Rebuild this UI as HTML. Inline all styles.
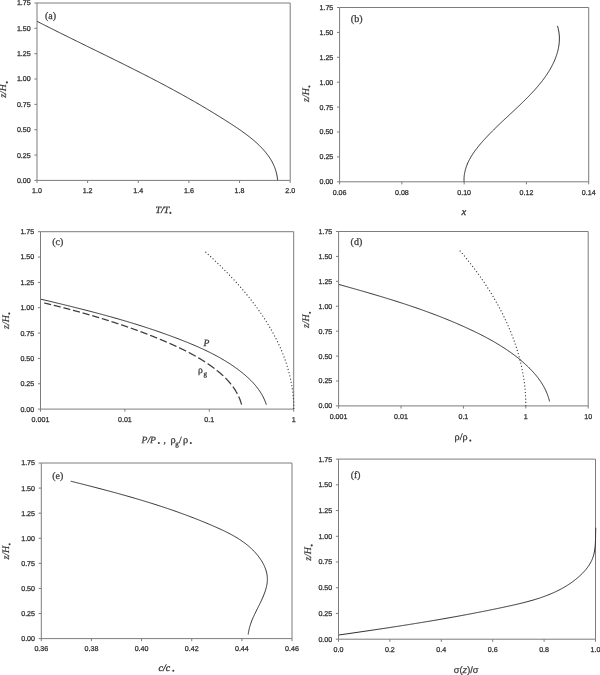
<!DOCTYPE html><html><head><meta charset="utf-8"><style>html,body{margin:0;padding:0;background:#fff;}svg{display:block}.tk{font-family:"Liberation Sans",sans-serif;font-size:7.1px;fill:#333;stroke:#333;stroke-width:0.28px}.sr{font-family:"Liberation Serif",serif;fill:#3a3a3a;stroke:#3a3a3a;stroke-width:0.28px}.ss{font-family:"Liberation Sans",sans-serif;fill:#3a3a3a;stroke:#3a3a3a;stroke-width:0.25px}text{text-rendering:geometricPrecision}.bi{font-style:italic;stroke:#3a3a3a;stroke-width:0.35px}svg{filter:grayscale(1)}</style></head><body>
<svg width="600" height="675" viewBox="0 0 600 675">
<rect width="600" height="675" fill="#fff"/>
<path d="M37.00 3.00H290.20V180.40H37.00Z" fill="none" stroke="#7c7c7c" stroke-width="1"/>
<path d="M34.40 180.40H37.00" stroke="#7c7c7c" stroke-width="1"/>
<text class="tk" x="30.70" y="182.85" text-anchor="end">0.00</text>
<path d="M34.40 155.06H37.00" stroke="#7c7c7c" stroke-width="1"/>
<text class="tk" x="30.70" y="157.51" text-anchor="end">0.25</text>
<path d="M34.40 129.71H37.00" stroke="#7c7c7c" stroke-width="1"/>
<text class="tk" x="30.70" y="132.16" text-anchor="end">0.50</text>
<path d="M34.40 104.37H37.00" stroke="#7c7c7c" stroke-width="1"/>
<text class="tk" x="30.70" y="106.82" text-anchor="end">0.75</text>
<path d="M34.40 79.03H37.00" stroke="#7c7c7c" stroke-width="1"/>
<text class="tk" x="30.70" y="81.48" text-anchor="end">1.00</text>
<path d="M34.40 53.69H37.00" stroke="#7c7c7c" stroke-width="1"/>
<text class="tk" x="30.70" y="56.14" text-anchor="end">1.25</text>
<path d="M34.40 28.34H37.00" stroke="#7c7c7c" stroke-width="1"/>
<text class="tk" x="30.70" y="30.79" text-anchor="end">1.50</text>
<path d="M34.40 3.00H37.00" stroke="#7c7c7c" stroke-width="1"/>
<text class="tk" x="30.70" y="5.45" text-anchor="end">1.75</text>
<path d="M37.00 180.40V183.00" stroke="#7c7c7c" stroke-width="1"/>
<text class="tk" x="37.00" y="193.20" text-anchor="middle">1.0</text>
<path d="M87.64 180.40V183.00" stroke="#7c7c7c" stroke-width="1"/>
<text class="tk" x="87.64" y="193.20" text-anchor="middle">1.2</text>
<path d="M138.28 180.40V183.00" stroke="#7c7c7c" stroke-width="1"/>
<text class="tk" x="138.28" y="193.20" text-anchor="middle">1.4</text>
<path d="M188.92 180.40V183.00" stroke="#7c7c7c" stroke-width="1"/>
<text class="tk" x="188.92" y="193.20" text-anchor="middle">1.6</text>
<path d="M239.56 180.40V183.00" stroke="#7c7c7c" stroke-width="1"/>
<text class="tk" x="239.56" y="193.20" text-anchor="middle">1.8</text>
<path d="M290.20 180.40V183.00" stroke="#7c7c7c" stroke-width="1"/>
<text class="tk" x="290.20" y="193.20" text-anchor="middle">2.0</text>
<path d="M339.60 7.50H588.70V181.80H339.60Z" fill="none" stroke="#7c7c7c" stroke-width="1"/>
<path d="M337.00 181.80H339.60" stroke="#7c7c7c" stroke-width="1"/>
<text class="tk" x="333.30" y="184.25" text-anchor="end">0.00</text>
<path d="M337.00 156.90H339.60" stroke="#7c7c7c" stroke-width="1"/>
<text class="tk" x="333.30" y="159.35" text-anchor="end">0.25</text>
<path d="M337.00 132.00H339.60" stroke="#7c7c7c" stroke-width="1"/>
<text class="tk" x="333.30" y="134.45" text-anchor="end">0.50</text>
<path d="M337.00 107.10H339.60" stroke="#7c7c7c" stroke-width="1"/>
<text class="tk" x="333.30" y="109.55" text-anchor="end">0.75</text>
<path d="M337.00 82.20H339.60" stroke="#7c7c7c" stroke-width="1"/>
<text class="tk" x="333.30" y="84.65" text-anchor="end">1.00</text>
<path d="M337.00 57.30H339.60" stroke="#7c7c7c" stroke-width="1"/>
<text class="tk" x="333.30" y="59.75" text-anchor="end">1.25</text>
<path d="M337.00 32.40H339.60" stroke="#7c7c7c" stroke-width="1"/>
<text class="tk" x="333.30" y="34.85" text-anchor="end">1.50</text>
<path d="M337.00 7.50H339.60" stroke="#7c7c7c" stroke-width="1"/>
<text class="tk" x="333.30" y="9.95" text-anchor="end">1.75</text>
<path d="M339.60 181.80V184.40" stroke="#7c7c7c" stroke-width="1"/>
<text class="tk" x="339.60" y="194.60" text-anchor="middle">0.06</text>
<path d="M401.88 181.80V184.40" stroke="#7c7c7c" stroke-width="1"/>
<text class="tk" x="401.88" y="194.60" text-anchor="middle">0.08</text>
<path d="M464.15 181.80V184.40" stroke="#7c7c7c" stroke-width="1"/>
<text class="tk" x="464.15" y="194.60" text-anchor="middle">0.10</text>
<path d="M526.43 181.80V184.40" stroke="#7c7c7c" stroke-width="1"/>
<text class="tk" x="526.43" y="194.60" text-anchor="middle">0.12</text>
<path d="M588.70 181.80V184.40" stroke="#7c7c7c" stroke-width="1"/>
<text class="tk" x="588.70" y="194.60" text-anchor="middle">0.14</text>
<path d="M40.50 231.70H293.70V409.10H40.50Z" fill="none" stroke="#7c7c7c" stroke-width="1"/>
<path d="M37.90 409.10H40.50" stroke="#7c7c7c" stroke-width="1"/>
<text class="tk" x="34.20" y="411.55" text-anchor="end">0.00</text>
<path d="M37.90 383.76H40.50" stroke="#7c7c7c" stroke-width="1"/>
<text class="tk" x="34.20" y="386.21" text-anchor="end">0.25</text>
<path d="M37.90 358.41H40.50" stroke="#7c7c7c" stroke-width="1"/>
<text class="tk" x="34.20" y="360.86" text-anchor="end">0.50</text>
<path d="M37.90 333.07H40.50" stroke="#7c7c7c" stroke-width="1"/>
<text class="tk" x="34.20" y="335.52" text-anchor="end">0.75</text>
<path d="M37.90 307.73H40.50" stroke="#7c7c7c" stroke-width="1"/>
<text class="tk" x="34.20" y="310.18" text-anchor="end">1.00</text>
<path d="M37.90 282.39H40.50" stroke="#7c7c7c" stroke-width="1"/>
<text class="tk" x="34.20" y="284.84" text-anchor="end">1.25</text>
<path d="M37.90 257.04H40.50" stroke="#7c7c7c" stroke-width="1"/>
<text class="tk" x="34.20" y="259.49" text-anchor="end">1.50</text>
<path d="M37.90 231.70H40.50" stroke="#7c7c7c" stroke-width="1"/>
<text class="tk" x="34.20" y="234.15" text-anchor="end">1.75</text>
<path d="M40.50 409.10V411.70" stroke="#7c7c7c" stroke-width="1"/>
<text class="tk" x="40.50" y="421.90" text-anchor="middle">0.001</text>
<path d="M124.90 409.10V411.70" stroke="#7c7c7c" stroke-width="1"/>
<text class="tk" x="124.90" y="421.90" text-anchor="middle">0.01</text>
<path d="M209.30 409.10V411.70" stroke="#7c7c7c" stroke-width="1"/>
<text class="tk" x="209.30" y="421.90" text-anchor="middle">0.1</text>
<path d="M293.70 409.10V411.70" stroke="#7c7c7c" stroke-width="1"/>
<text class="tk" x="293.70" y="421.90" text-anchor="middle">1</text>
<path d="M338.60 231.50H588.20V405.90H338.60Z" fill="none" stroke="#7c7c7c" stroke-width="1"/>
<path d="M336.00 405.90H338.60" stroke="#7c7c7c" stroke-width="1"/>
<text class="tk" x="332.30" y="408.35" text-anchor="end">0.00</text>
<path d="M336.00 380.99H338.60" stroke="#7c7c7c" stroke-width="1"/>
<text class="tk" x="332.30" y="383.44" text-anchor="end">0.25</text>
<path d="M336.00 356.07H338.60" stroke="#7c7c7c" stroke-width="1"/>
<text class="tk" x="332.30" y="358.52" text-anchor="end">0.50</text>
<path d="M336.00 331.16H338.60" stroke="#7c7c7c" stroke-width="1"/>
<text class="tk" x="332.30" y="333.61" text-anchor="end">0.75</text>
<path d="M336.00 306.24H338.60" stroke="#7c7c7c" stroke-width="1"/>
<text class="tk" x="332.30" y="308.69" text-anchor="end">1.00</text>
<path d="M336.00 281.33H338.60" stroke="#7c7c7c" stroke-width="1"/>
<text class="tk" x="332.30" y="283.78" text-anchor="end">1.25</text>
<path d="M336.00 256.41H338.60" stroke="#7c7c7c" stroke-width="1"/>
<text class="tk" x="332.30" y="258.86" text-anchor="end">1.50</text>
<path d="M336.00 231.50H338.60" stroke="#7c7c7c" stroke-width="1"/>
<text class="tk" x="332.30" y="233.95" text-anchor="end">1.75</text>
<path d="M338.60 405.90V408.50" stroke="#7c7c7c" stroke-width="1"/>
<text class="tk" x="338.60" y="418.70" text-anchor="middle">0.001</text>
<path d="M401.00 405.90V408.50" stroke="#7c7c7c" stroke-width="1"/>
<text class="tk" x="401.00" y="418.70" text-anchor="middle">0.01</text>
<path d="M463.40 405.90V408.50" stroke="#7c7c7c" stroke-width="1"/>
<text class="tk" x="463.40" y="418.70" text-anchor="middle">0.1</text>
<path d="M525.80 405.90V408.50" stroke="#7c7c7c" stroke-width="1"/>
<text class="tk" x="525.80" y="418.70" text-anchor="middle">1</text>
<path d="M588.20 405.90V408.50" stroke="#7c7c7c" stroke-width="1"/>
<text class="tk" x="588.20" y="418.70" text-anchor="middle">10</text>
<path d="M41.30 463.00H292.00V638.60H41.30Z" fill="none" stroke="#7c7c7c" stroke-width="1"/>
<path d="M38.70 638.60H41.30" stroke="#7c7c7c" stroke-width="1"/>
<text class="tk" x="35.00" y="641.05" text-anchor="end">0.00</text>
<path d="M38.70 613.51H41.30" stroke="#7c7c7c" stroke-width="1"/>
<text class="tk" x="35.00" y="615.96" text-anchor="end">0.25</text>
<path d="M38.70 588.43H41.30" stroke="#7c7c7c" stroke-width="1"/>
<text class="tk" x="35.00" y="590.88" text-anchor="end">0.50</text>
<path d="M38.70 563.34H41.30" stroke="#7c7c7c" stroke-width="1"/>
<text class="tk" x="35.00" y="565.79" text-anchor="end">0.75</text>
<path d="M38.70 538.26H41.30" stroke="#7c7c7c" stroke-width="1"/>
<text class="tk" x="35.00" y="540.71" text-anchor="end">1.00</text>
<path d="M38.70 513.17H41.30" stroke="#7c7c7c" stroke-width="1"/>
<text class="tk" x="35.00" y="515.62" text-anchor="end">1.25</text>
<path d="M38.70 488.09H41.30" stroke="#7c7c7c" stroke-width="1"/>
<text class="tk" x="35.00" y="490.54" text-anchor="end">1.50</text>
<path d="M38.70 463.00H41.30" stroke="#7c7c7c" stroke-width="1"/>
<text class="tk" x="35.00" y="465.45" text-anchor="end">1.75</text>
<path d="M41.30 638.60V641.20" stroke="#7c7c7c" stroke-width="1"/>
<text class="tk" x="41.30" y="651.40" text-anchor="middle">0.36</text>
<path d="M91.44 638.60V641.20" stroke="#7c7c7c" stroke-width="1"/>
<text class="tk" x="91.44" y="651.40" text-anchor="middle">0.38</text>
<path d="M141.58 638.60V641.20" stroke="#7c7c7c" stroke-width="1"/>
<text class="tk" x="141.58" y="651.40" text-anchor="middle">0.40</text>
<path d="M191.72 638.60V641.20" stroke="#7c7c7c" stroke-width="1"/>
<text class="tk" x="191.72" y="651.40" text-anchor="middle">0.42</text>
<path d="M241.86 638.60V641.20" stroke="#7c7c7c" stroke-width="1"/>
<text class="tk" x="241.86" y="651.40" text-anchor="middle">0.44</text>
<path d="M292.00 638.60V641.20" stroke="#7c7c7c" stroke-width="1"/>
<text class="tk" x="292.00" y="651.40" text-anchor="middle">0.46</text>
<path d="M338.50 459.10H595.50V639.20H338.50Z" fill="none" stroke="#7c7c7c" stroke-width="1"/>
<path d="M335.90 639.20H338.50" stroke="#7c7c7c" stroke-width="1"/>
<text class="tk" x="332.20" y="641.65" text-anchor="end">0.00</text>
<path d="M335.90 613.47H338.50" stroke="#7c7c7c" stroke-width="1"/>
<text class="tk" x="332.20" y="615.92" text-anchor="end">0.25</text>
<path d="M335.90 587.74H338.50" stroke="#7c7c7c" stroke-width="1"/>
<text class="tk" x="332.20" y="590.19" text-anchor="end">0.50</text>
<path d="M335.90 562.01H338.50" stroke="#7c7c7c" stroke-width="1"/>
<text class="tk" x="332.20" y="564.46" text-anchor="end">0.75</text>
<path d="M335.90 536.29H338.50" stroke="#7c7c7c" stroke-width="1"/>
<text class="tk" x="332.20" y="538.74" text-anchor="end">1.00</text>
<path d="M335.90 510.56H338.50" stroke="#7c7c7c" stroke-width="1"/>
<text class="tk" x="332.20" y="513.01" text-anchor="end">1.25</text>
<path d="M335.90 484.83H338.50" stroke="#7c7c7c" stroke-width="1"/>
<text class="tk" x="332.20" y="487.28" text-anchor="end">1.50</text>
<path d="M335.90 459.10H338.50" stroke="#7c7c7c" stroke-width="1"/>
<text class="tk" x="332.20" y="461.55" text-anchor="end">1.75</text>
<path d="M338.50 639.20V641.80" stroke="#7c7c7c" stroke-width="1"/>
<text class="tk" x="338.50" y="652.00" text-anchor="middle">0.0</text>
<path d="M389.90 639.20V641.80" stroke="#7c7c7c" stroke-width="1"/>
<text class="tk" x="389.90" y="652.00" text-anchor="middle">0.2</text>
<path d="M441.30 639.20V641.80" stroke="#7c7c7c" stroke-width="1"/>
<text class="tk" x="441.30" y="652.00" text-anchor="middle">0.4</text>
<path d="M492.70 639.20V641.80" stroke="#7c7c7c" stroke-width="1"/>
<text class="tk" x="492.70" y="652.00" text-anchor="middle">0.6</text>
<path d="M544.10 639.20V641.80" stroke="#7c7c7c" stroke-width="1"/>
<text class="tk" x="544.10" y="652.00" text-anchor="middle">0.8</text>
<path d="M595.50 639.20V641.80" stroke="#7c7c7c" stroke-width="1"/>
<text class="tk" x="595.50" y="652.00" text-anchor="middle">1.0</text>
<path d="M37.25 21.41 L38.14 21.87 L39.03 22.32 L39.92 22.78 L40.81 23.24 L41.71 23.69 L42.60 24.15 L43.49 24.60 L44.38 25.05 L45.28 25.51 L46.17 25.96 L47.06 26.41 L47.96 26.86 L48.85 27.31 L49.75 27.77 L50.64 28.22 L51.54 28.67 L52.44 29.12 L53.33 29.57 L54.23 30.02 L55.13 30.46 L56.02 30.91 L56.92 31.36 L57.82 31.81 L58.72 32.26 L59.61 32.70 L60.51 33.15 L61.41 33.60 L62.31 34.05 L63.21 34.49 L64.11 34.94 L65.01 35.38 L65.91 35.83 L66.81 36.27 L67.71 36.72 L68.61 37.16 L69.51 37.61 L70.41 38.05 L71.31 38.50 L72.21 38.94 L73.11 39.39 L74.01 39.83 L74.91 40.27 L75.82 40.72 L76.72 41.16 L77.62 41.60 L78.52 42.05 L79.42 42.49 L80.33 42.93 L81.23 43.38 L82.13 43.82 L83.03 44.26 L83.94 44.70 L84.84 45.15 L85.74 45.59 L86.64 46.03 L87.55 46.47 L88.45 46.91 L89.35 47.36 L90.26 47.80 L91.16 48.24 L92.06 48.68 L92.96 49.13 L93.87 49.57 L94.77 50.01 L95.67 50.45 L96.58 50.90 L97.48 51.34 L98.38 51.78 L99.29 52.22 L100.19 52.67 L101.09 53.11 L102.00 53.55 L102.90 53.99 L103.80 54.44 L104.70 54.88 L105.61 55.32 L106.51 55.77 L107.41 56.21 L108.32 56.65 L109.22 57.10 L110.12 57.54 L111.02 57.99 L111.92 58.43 L112.83 58.87 L113.73 59.32 L114.63 59.76 L115.53 60.21 L116.43 60.66 L117.34 61.10 L118.24 61.55 L119.14 61.99 L120.04 62.44 L120.94 62.89 L121.84 63.33 L122.74 63.78 L123.64 64.23 L124.54 64.68 L125.44 65.12 L126.34 65.57 L127.24 66.02 L128.14 66.47 L129.04 66.92 L129.94 67.37 L130.84 67.82 L131.73 68.27 L132.63 68.72 L133.53 69.17 L134.43 69.62 L135.33 70.08 L136.22 70.53 L137.12 70.98 L138.02 71.43 L138.91 71.89 L139.81 72.34 L140.70 72.80 L141.60 73.25 L142.49 73.71 L143.39 74.16 L144.28 74.62 L145.18 75.08 L146.07 75.53 L146.96 75.99 L147.86 76.45 L148.75 76.91 L149.64 77.37 L150.53 77.83 L151.43 78.29 L152.32 78.75 L153.21 79.21 L154.10 79.68 L154.99 80.14 L155.88 80.60 L156.77 81.07 L157.66 81.53 L158.54 82.00 L159.43 82.46 L160.32 82.93 L161.21 83.40 L162.09 83.86 L162.98 84.33 L163.87 84.80 L164.75 85.27 L165.64 85.74 L166.52 86.21 L167.40 86.68 L168.29 87.16 L169.17 87.63 L170.05 88.11 L170.94 88.58 L171.82 89.06 L172.70 89.53 L173.58 90.01 L174.46 90.49 L175.34 90.97 L176.22 91.44 L177.09 91.92 L177.97 92.41 L178.85 92.89 L179.73 93.37 L180.60 93.85 L181.48 94.34 L182.35 94.82 L183.23 95.31 L184.10 95.80 L184.97 96.28 L185.85 96.77 L186.72 97.26 L187.59 97.75 L188.46 98.24 L189.33 98.73 L190.20 99.23 L191.07 99.72 L191.94 100.22 L192.80 100.71 L193.67 101.21 L194.54 101.71 L195.40 102.21 L196.27 102.71 L197.13 103.21 L198.00 103.71 L198.86 104.21 L199.73 104.71 L200.59 105.22 L201.45 105.73 L202.31 106.23 L203.17 106.74 L204.04 107.25 L204.90 107.76 L205.76 108.27 L206.62 108.78 L207.47 109.30 L208.33 109.81 L209.19 110.33 L210.05 110.84 L210.91 111.36 L211.76 111.88 L212.62 112.40 L213.48 112.92 L214.33 113.44 L215.19 113.97 L216.04 114.49 L216.90 115.02 L217.75 115.55 L218.61 116.08 L219.46 116.61 L220.32 117.14 L221.17 117.67 L222.02 118.20 L222.87 118.74 L223.73 119.28 L224.58 119.81 L225.43 120.35 L226.28 120.89 L227.13 121.43 L227.98 121.98 L228.83 122.52 L229.68 123.07 L230.53 123.62 L231.38 124.16 L232.23 124.72 L233.08 125.27 L233.92 125.83 L234.77 126.38 L235.61 126.94 L236.45 127.51 L237.29 128.07 L238.13 128.64 L238.97 129.22 L239.80 129.79 L240.63 130.37 L241.46 130.95 L242.29 131.54 L243.11 132.13 L243.94 132.72 L244.75 133.32 L245.57 133.93 L246.38 134.53 L247.19 135.14 L248.00 135.76 L248.80 136.38 L249.60 137.01 L250.39 137.64 L251.18 138.28 L251.97 138.92 L252.75 139.57 L253.53 140.22 L254.30 140.88 L255.06 141.54 L255.82 142.21 L256.58 142.89 L257.32 143.57 L258.06 144.26 L258.79 144.96 L259.52 145.66 L260.23 146.37 L260.94 147.09 L261.63 147.81 L262.32 148.54 L263.00 149.27 L263.67 150.02 L264.33 150.77 L264.97 151.52 L265.61 152.29 L266.23 153.06 L266.84 153.84 L267.44 154.63 L268.03 155.42 L268.60 156.23 L269.16 157.04 L269.70 157.86 L270.23 158.69 L270.75 159.52 L271.25 160.37 L271.74 161.22 L272.21 162.08 L272.66 162.95 L273.10 163.83 L273.52 164.72 L273.92 165.62 L274.30 166.52 L274.67 167.44 L275.02 168.37 L275.35 169.30 L275.66 170.24 L275.95 171.20 L276.22 172.16 L276.47 173.13 L276.70 174.12 L276.91 175.11 L277.09 176.11 L277.26 177.13 L277.40 178.15 L277.52 179.19 L277.62 180.23" fill="none" stroke="#2e2e2e" stroke-width="1.0"/>
<path d="M464.04 181.62 L464.01 180.58 L464.01 179.54 L464.04 178.51 L464.09 177.48 L464.17 176.47 L464.28 175.46 L464.41 174.46 L464.57 173.47 L464.75 172.49 L464.96 171.52 L465.18 170.55 L465.43 169.59 L465.71 168.64 L466.00 167.69 L466.31 166.76 L466.65 165.83 L467.00 164.91 L467.37 163.99 L467.76 163.08 L468.17 162.18 L468.59 161.29 L469.03 160.40 L469.49 159.53 L469.96 158.65 L470.44 157.79 L470.94 156.93 L471.46 156.07 L471.98 155.23 L472.52 154.39 L473.07 153.55 L473.63 152.72 L474.21 151.90 L474.79 151.08 L475.38 150.27 L475.99 149.46 L476.60 148.66 L477.22 147.87 L477.84 147.08 L478.48 146.29 L479.12 145.51 L479.76 144.73 L480.42 143.96 L481.07 143.19 L481.74 142.43 L482.40 141.67 L483.07 140.92 L483.74 140.17 L484.42 139.42 L485.10 138.68 L485.78 137.94 L486.46 137.21 L487.15 136.47 L487.84 135.75 L488.53 135.02 L489.22 134.30 L489.92 133.58 L490.62 132.86 L491.32 132.15 L492.03 131.44 L492.73 130.73 L493.44 130.02 L494.15 129.32 L494.86 128.62 L495.58 127.92 L496.29 127.22 L497.01 126.53 L497.73 125.83 L498.45 125.14 L499.17 124.45 L499.90 123.76 L500.62 123.07 L501.35 122.38 L502.08 121.69 L502.80 121.01 L503.53 120.32 L504.26 119.64 L504.99 118.96 L505.73 118.27 L506.46 117.59 L507.19 116.91 L507.92 116.22 L508.66 115.54 L509.39 114.86 L510.13 114.17 L510.86 113.49 L511.60 112.81 L512.33 112.12 L513.06 111.44 L513.80 110.75 L514.53 110.06 L515.27 109.37 L516.00 108.68 L516.73 107.99 L517.47 107.30 L518.20 106.60 L518.93 105.91 L519.66 105.21 L520.39 104.51 L521.12 103.81 L521.85 103.10 L522.57 102.40 L523.30 101.69 L524.02 100.98 L524.75 100.26 L525.47 99.54 L526.19 98.82 L526.91 98.10 L527.62 97.38 L528.34 96.65 L529.05 95.91 L529.76 95.18 L530.47 94.44 L531.17 93.70 L531.87 92.95 L532.57 92.20 L533.27 91.45 L533.96 90.70 L534.65 89.94 L535.33 89.18 L536.01 88.41 L536.68 87.64 L537.35 86.87 L538.01 86.09 L538.67 85.31 L539.32 84.53 L539.97 83.74 L540.61 82.95 L541.24 82.15 L541.87 81.35 L542.49 80.55 L543.11 79.74 L543.71 78.93 L544.31 78.12 L544.90 77.30 L545.48 76.48 L546.06 75.65 L546.62 74.82 L547.18 73.98 L547.73 73.14 L548.27 72.30 L548.80 71.45 L549.32 70.60 L549.83 69.74 L550.33 68.88 L550.82 68.01 L551.30 67.14 L551.77 66.27 L552.23 65.39 L552.67 64.51 L553.11 63.62 L553.53 62.73 L553.94 61.83 L554.34 60.93 L554.73 60.02 L555.10 59.11 L555.46 58.19 L555.81 57.27 L556.14 56.34 L556.46 55.41 L556.77 54.48 L557.06 53.54 L557.34 52.59 L557.60 51.64 L557.85 50.69 L558.07 49.73 L558.29 48.77 L558.48 47.80 L558.66 46.83 L558.82 45.86 L558.96 44.88 L559.08 43.90 L559.18 42.92 L559.26 41.93 L559.32 40.94 L559.36 39.95 L559.38 38.96 L559.38 37.96 L559.35 36.96 L559.30 35.96 L559.23 34.96 L559.13 33.95 L559.01 32.95 L558.86 31.94 L558.69 30.93 L558.49 29.92 L558.27 28.90 L558.01 27.89 L557.74 26.88 L557.43 25.86" fill="none" stroke="#2e2e2e" stroke-width="1.0"/>
<path d="M40.99 299.22 L41.97 299.45 L42.96 299.68 L43.95 299.92 L44.93 300.15 L45.92 300.38 L46.90 300.62 L47.89 300.85 L48.87 301.09 L49.85 301.32 L50.84 301.56 L51.82 301.79 L52.80 302.03 L53.78 302.26 L54.77 302.50 L55.75 302.73 L56.73 302.97 L57.71 303.21 L58.69 303.44 L59.67 303.68 L60.65 303.92 L61.63 304.16 L62.61 304.39 L63.59 304.63 L64.57 304.87 L65.55 305.11 L66.53 305.35 L67.50 305.59 L68.48 305.83 L69.46 306.07 L70.44 306.31 L71.41 306.55 L72.39 306.79 L73.36 307.04 L74.34 307.28 L75.32 307.52 L76.29 307.77 L77.26 308.01 L78.24 308.25 L79.21 308.50 L80.19 308.74 L81.16 308.99 L82.13 309.24 L83.11 309.49 L84.08 309.73 L85.05 309.98 L86.02 310.23 L86.99 310.48 L87.96 310.73 L88.94 310.98 L89.91 311.23 L90.88 311.49 L91.85 311.74 L92.82 311.99 L93.79 312.25 L94.75 312.50 L95.72 312.76 L96.69 313.02 L97.66 313.27 L98.63 313.53 L99.60 313.79 L100.56 314.05 L101.53 314.31 L102.50 314.57 L103.46 314.83 L104.43 315.10 L105.39 315.36 L106.36 315.62 L107.32 315.89 L108.29 316.16 L109.25 316.42 L110.22 316.69 L111.18 316.96 L112.15 317.23 L113.11 317.50 L114.07 317.77 L115.04 318.04 L116.00 318.32 L116.96 318.59 L117.92 318.87 L118.88 319.15 L119.85 319.42 L120.81 319.70 L121.77 319.98 L122.73 320.26 L123.69 320.54 L124.65 320.83 L125.61 321.11 L126.57 321.40 L127.53 321.68 L128.49 321.97 L129.44 322.26 L130.40 322.55 L131.36 322.84 L132.32 323.13 L133.28 323.42 L134.23 323.72 L135.19 324.01 L136.15 324.31 L137.10 324.61 L138.06 324.90 L139.02 325.21 L139.97 325.51 L140.93 325.81 L141.88 326.11 L142.84 326.42 L143.79 326.73 L144.75 327.03 L145.70 327.34 L146.65 327.65 L147.61 327.97 L148.56 328.28 L149.51 328.59 L150.47 328.91 L151.42 329.23 L152.37 329.55 L153.32 329.87 L154.27 330.19 L155.23 330.51 L156.18 330.83 L157.13 331.16 L158.08 331.49 L159.03 331.82 L159.98 332.15 L160.93 332.48 L161.88 332.81 L162.83 333.15 L163.78 333.49 L164.73 333.82 L165.68 334.16 L166.62 334.50 L167.57 334.85 L168.52 335.19 L169.47 335.54 L170.42 335.89 L171.36 336.24 L172.31 336.59 L173.26 336.94 L174.20 337.29 L175.15 337.65 L176.10 338.01 L177.04 338.37 L177.99 338.73 L178.93 339.09 L179.88 339.46 L180.82 339.82 L181.77 340.19 L182.71 340.56 L183.65 340.93 L184.60 341.31 L185.54 341.68 L186.48 342.06 L187.42 342.44 L188.36 342.82 L189.30 343.21 L190.24 343.59 L191.18 343.98 L192.12 344.38 L193.05 344.77 L193.99 345.17 L194.92 345.57 L195.86 345.97 L196.79 346.37 L197.72 346.78 L198.65 347.19 L199.57 347.60 L200.50 348.02 L201.42 348.44 L202.34 348.86 L203.27 349.28 L204.18 349.71 L205.10 350.14 L206.02 350.58 L206.93 351.02 L207.84 351.46 L208.75 351.90 L209.66 352.35 L210.56 352.80 L211.46 353.26 L212.36 353.72 L213.26 354.18 L214.15 354.64 L215.05 355.11 L215.94 355.59 L216.82 356.07 L217.71 356.55 L218.59 357.03 L219.47 357.52 L220.34 358.02 L221.22 358.52 L222.08 359.02 L222.95 359.53 L223.81 360.04 L224.67 360.55 L225.53 361.07 L226.39 361.60 L227.24 362.13 L228.08 362.66 L228.92 363.20 L229.76 363.74 L230.60 364.29 L231.43 364.84 L232.26 365.40 L233.08 365.96 L233.90 366.53 L234.72 367.10 L235.53 367.68 L236.34 368.26 L237.15 368.85 L237.95 369.45 L238.74 370.05 L239.53 370.65 L240.32 371.26 L241.10 371.87 L241.88 372.50 L242.65 373.12 L243.42 373.75 L244.18 374.39 L244.94 375.04 L245.70 375.69 L246.44 376.34 L247.19 377.01 L247.92 377.67 L248.65 378.35 L249.37 379.03 L250.09 379.72 L250.79 380.42 L251.49 381.13 L252.18 381.84 L252.86 382.56 L253.53 383.29 L254.20 384.03 L254.85 384.77 L255.49 385.53 L256.12 386.29 L256.74 387.06 L257.35 387.84 L257.95 388.63 L258.54 389.43 L259.11 390.24 L259.67 391.06 L260.22 391.89 L260.76 392.74 L261.28 393.59 L261.78 394.45 L262.28 395.32 L262.75 396.21 L263.22 397.10 L263.66 398.01 L264.10 398.93 L264.51 399.86 L264.91 400.80 L265.29 401.75 L265.66 402.72 L266.00 403.70 L266.33 404.69" fill="none" stroke="#2e2e2e" stroke-width="1.0"/>
<path d="M44.20 302.96 L44.42 303.01 L44.67 303.07 L44.91 303.13 L45.16 303.19 L45.40 303.25 L45.65 303.31 L45.89 303.37 L46.14 303.43 L46.38 303.49 L46.62 303.55 L46.87 303.60 L47.11 303.66 L47.36 303.72 L47.60 303.78 L47.85 303.84 L48.09 303.90 L48.33 303.96 L48.58 304.02 L48.82 304.08 L49.07 304.14 L49.31 304.20 L49.55 304.26 L49.80 304.32 L50.04 304.38 L50.29 304.44 L50.53 304.50 L50.77 304.56 L51.02 304.62 L51.10 304.64 M53.82 305.31 L53.94 305.34 L54.19 305.41 L54.43 305.47 L54.67 305.53 L54.92 305.59 L55.16 305.65 L55.40 305.71 L55.65 305.77 L55.89 305.83 L56.13 305.89 L56.38 305.95 L56.62 306.01 L56.86 306.08 L57.11 306.14 L57.35 306.20 L57.59 306.26 L57.84 306.32 L58.08 306.38 L58.32 306.44 L58.57 306.51 L58.81 306.57 L59.05 306.63 L59.30 306.69 L59.54 306.75 L59.78 306.81 L60.02 306.88 L60.27 306.94 L60.51 307.00 L60.71 307.05 M63.42 307.75 L63.54 307.78 L63.79 307.84 L64.03 307.90 L64.27 307.97 L64.51 308.03 L64.76 308.09 L65.00 308.16 L65.24 308.22 L65.48 308.28 L65.72 308.34 L65.97 308.41 L66.21 308.47 L66.45 308.53 L66.69 308.60 L66.94 308.66 L67.18 308.72 L67.42 308.79 L67.66 308.85 L67.90 308.91 L68.15 308.98 L68.39 309.04 L68.63 309.11 L68.87 309.17 L69.11 309.23 L69.36 309.30 L69.60 309.36 L69.84 309.43 L70.08 309.49 L70.29 309.54 M73.00 310.27 L73.22 310.33 L73.46 310.39 L73.70 310.46 L73.95 310.52 L74.19 310.59 L74.43 310.65 L74.67 310.72 L74.91 310.78 L75.15 310.85 L75.39 310.91 L75.63 310.98 L75.88 311.05 L76.12 311.11 L76.36 311.18 L76.60 311.24 L76.84 311.31 L77.08 311.37 L77.32 311.44 L77.56 311.51 L77.80 311.57 L78.04 311.64 L78.29 311.70 L78.53 311.77 L78.77 311.84 L79.01 311.90 L79.25 311.97 L79.49 312.04 L79.73 312.10 L79.88 312.14 M82.59 312.90 L82.74 312.94 L82.98 313.01 L83.22 313.07 L83.46 313.14 L83.70 313.21 L83.94 313.28 L84.18 313.34 L84.42 313.41 L84.66 313.48 L84.90 313.55 L85.14 313.61 L85.38 313.68 L85.62 313.75 L85.86 313.82 L86.10 313.89 L86.34 313.96 L86.58 314.02 L86.82 314.09 L87.06 314.16 L87.30 314.23 L87.54 314.30 L87.78 314.37 L88.02 314.44 L88.26 314.50 L88.50 314.57 L88.74 314.64 L88.98 314.71 L89.22 314.78 L89.46 314.85 L89.49 314.86 M92.20 315.65 L92.33 315.68 L92.57 315.75 L92.81 315.82 L93.05 315.90 L93.29 315.97 L93.53 316.04 L93.77 316.11 L94.00 316.18 L94.24 316.25 L94.48 316.32 L94.72 316.39 L94.96 316.46 L95.20 316.53 L95.44 316.60 L95.68 316.67 L95.92 316.74 L96.16 316.81 L96.39 316.89 L96.63 316.96 L96.87 317.03 L97.11 317.10 L97.35 317.17 L97.59 317.24 L97.83 317.31 L98.07 317.39 L98.30 317.46 L98.54 317.53 L98.78 317.60 L99.02 317.67 L99.12 317.70 M101.82 318.53 L102.00 318.58 L102.24 318.65 L102.48 318.73 L102.72 318.80 L102.95 318.87 L103.19 318.95 L103.43 319.02 L103.67 319.09 L103.91 319.17 L104.14 319.24 L104.38 319.31 L104.62 319.39 L104.86 319.46 L105.10 319.54 L105.33 319.61 L105.57 319.68 L105.81 319.76 L106.05 319.83 L106.28 319.91 L106.52 319.98 L106.76 320.06 L107.00 320.13 L107.24 320.21 L107.47 320.28 L107.71 320.36 L107.95 320.43 L108.19 320.50 L108.42 320.58 L108.66 320.66 L108.76 320.69 M111.46 321.55 L111.63 321.60 L111.87 321.68 L112.10 321.75 L112.34 321.83 L112.58 321.91 L112.81 321.98 L113.05 322.06 L113.29 322.14 L113.53 322.21 L113.76 322.29 L114.00 322.37 L114.24 322.45 L114.47 322.52 L114.71 322.60 L114.95 322.68 L115.18 322.75 L115.42 322.83 L115.66 322.91 L115.89 322.99 L116.13 323.07 L116.37 323.14 L116.60 323.22 L116.84 323.30 L117.08 323.38 L117.31 323.46 L117.55 323.53 L117.79 323.61 L118.02 323.69 L118.26 323.77 L118.42 323.82 M121.11 324.72 L121.33 324.80 L121.57 324.88 L121.81 324.96 L122.04 325.04 L122.28 325.12 L122.51 325.20 L122.75 325.28 L122.99 325.36 L123.22 325.44 L123.46 325.52 L123.69 325.60 L123.93 325.68 L124.17 325.76 L124.40 325.84 L124.64 325.92 L124.87 326.00 L125.11 326.09 L125.34 326.17 L125.58 326.25 L125.82 326.33 L126.05 326.41 L126.29 326.49 L126.52 326.57 L126.76 326.66 L126.99 326.74 L127.23 326.82 L127.46 326.90 L127.70 326.98 L127.94 327.07 L128.09 327.12 M130.77 328.06 L130.99 328.14 L131.23 328.23 L131.46 328.31 L131.70 328.39 L131.93 328.48 L132.17 328.56 L132.40 328.65 L132.64 328.73 L132.87 328.81 L133.11 328.90 L133.34 328.98 L133.58 329.07 L133.81 329.15 L134.05 329.24 L134.28 329.32 L134.52 329.41 L134.75 329.49 L134.99 329.58 L135.22 329.66 L135.46 329.75 L135.69 329.83 L135.93 329.92 L136.16 330.00 L136.40 330.09 L136.63 330.17 L136.87 330.26 L137.10 330.35 L137.33 330.43 L137.57 330.52 L137.77 330.59 M140.44 331.58 L140.61 331.65 L140.85 331.73 L141.08 331.82 L141.32 331.91 L141.55 332.00 L141.78 332.09 L142.02 332.17 L142.25 332.26 L142.49 332.35 L142.72 332.44 L142.95 332.53 L143.19 332.62 L143.42 332.70 L143.66 332.79 L143.89 332.88 L144.12 332.97 L144.36 333.06 L144.59 333.15 L144.82 333.24 L145.06 333.33 L145.29 333.42 L145.53 333.51 L145.76 333.60 L145.99 333.69 L146.23 333.78 L146.46 333.87 L146.69 333.96 L146.93 334.05 L147.16 334.14 L147.39 334.23 L147.45 334.25 M150.12 335.29 L150.31 335.37 L150.54 335.46 L150.77 335.55 L151.01 335.64 L151.24 335.73 L151.47 335.83 L151.71 335.92 L151.94 336.01 L152.17 336.10 L152.41 336.20 L152.64 336.29 L152.87 336.38 L153.10 336.47 L153.34 336.57 L153.57 336.66 L153.80 336.75 L154.04 336.85 L154.27 336.94 L154.50 337.04 L154.73 337.13 L154.97 337.22 L155.20 337.32 L155.43 337.41 L155.66 337.51 L155.90 337.60 L156.13 337.69 L156.36 337.79 L156.59 337.88 L156.83 337.98 L157.06 338.07 L157.14 338.11 M159.80 339.20 L159.96 339.27 L160.19 339.36 L160.43 339.46 L160.66 339.56 L160.89 339.65 L161.12 339.75 L161.35 339.85 L161.59 339.94 L161.82 340.04 L162.05 340.14 L162.28 340.24 L162.51 340.33 L162.74 340.43 L162.98 340.53 L163.21 340.63 L163.44 340.73 L163.67 340.82 L163.90 340.92 L164.14 341.02 L164.37 341.12 L164.60 341.22 L164.83 341.32 L165.06 341.41 L165.29 341.51 L165.52 341.61 L165.76 341.71 L165.99 341.81 L166.22 341.91 L166.45 342.01 L166.68 342.11 L166.83 342.17 M169.47 343.32 L169.69 343.42 L169.92 343.52 L170.15 343.62 L170.38 343.72 L170.61 343.82 L170.84 343.92 L171.07 344.03 L171.30 344.13 L171.53 344.23 L171.76 344.33 L171.99 344.44 L172.22 344.54 L172.45 344.64 L172.68 344.75 L172.91 344.85 L173.14 344.95 L173.37 345.06 L173.60 345.16 L173.83 345.26 L174.06 345.37 L174.29 345.47 L174.52 345.58 L174.75 345.68 L174.98 345.79 L175.21 345.89 L175.44 345.99 L175.67 346.10 L175.90 346.21 L176.13 346.31 L176.36 346.42 L176.50 346.48 M179.12 347.71 L179.33 347.81 L179.56 347.91 L179.78 348.02 L180.01 348.13 L180.24 348.24 L180.47 348.35 L180.69 348.46 L180.92 348.57 L181.15 348.68 L181.38 348.78 L181.60 348.89 L181.83 349.00 L182.06 349.11 L182.28 349.22 L182.51 349.34 L182.74 349.45 L182.96 349.56 L183.19 349.67 L183.41 349.78 L183.64 349.89 L183.87 350.00 L184.09 350.11 L184.32 350.23 L184.54 350.34 L184.77 350.45 L184.99 350.56 L185.22 350.68 L185.44 350.79 L185.67 350.90 L185.89 351.02 L186.12 351.13 L186.14 351.14 M188.73 352.47 L188.92 352.57 L189.14 352.69 L189.36 352.80 L189.58 352.92 L189.81 353.04 L190.03 353.15 L190.25 353.27 L190.47 353.39 L190.70 353.51 L190.92 353.63 L191.14 353.74 L191.36 353.86 L191.58 353.98 L191.80 354.10 L192.02 354.22 L192.24 354.34 L192.46 354.46 L192.69 354.58 L192.91 354.70 L193.13 354.82 L193.35 354.94 L193.57 355.07 L193.79 355.19 L194.00 355.31 L194.22 355.43 L194.44 355.55 L194.66 355.68 L194.88 355.80 L195.10 355.92 L195.32 356.04 L195.54 356.17 L195.72 356.27 M198.26 357.74 L198.47 357.86 L198.68 357.99 L198.90 358.11 L199.11 358.24 L199.33 358.37 L199.54 358.50 L199.76 358.63 L199.97 358.76 L200.19 358.88 L200.40 359.01 L200.61 359.14 L200.83 359.27 L201.04 359.40 L201.26 359.53 L201.47 359.67 L201.68 359.80 L201.89 359.93 L202.11 360.06 L202.32 360.19 L202.53 360.32 L202.74 360.46 L202.95 360.59 L203.17 360.72 L203.38 360.85 L203.59 360.99 L203.80 361.12 L204.01 361.26 L204.22 361.39 L204.43 361.53 L204.64 361.66 L204.85 361.80 L205.06 361.93 L205.18 362.01 M207.65 363.65 L207.76 363.72 L207.97 363.86 L208.18 364.00 L208.38 364.14 L208.59 364.28 L208.79 364.43 L209.00 364.57 L209.20 364.71 L209.41 364.85 L209.61 364.99 L209.81 365.14 L210.02 365.28 L210.22 365.42 L210.43 365.57 L210.63 365.71 L210.83 365.85 L211.03 366.00 L211.24 366.14 L211.44 366.29 L211.64 366.44 L211.84 366.58 L212.04 366.73 L212.24 366.87 L212.45 367.02 L212.65 367.17 L212.85 367.32 L213.05 367.46 L213.25 367.61 L213.44 367.76 L213.64 367.91 L213.84 368.06 L214.04 368.21 L214.24 368.36 L214.43 368.50 M216.80 370.34 L216.99 370.50 L217.18 370.65 L217.37 370.81 L217.57 370.96 L217.76 371.12 L217.95 371.28 L218.15 371.43 L218.34 371.59 L218.53 371.75 L218.72 371.91 L218.91 372.07 L219.10 372.23 L219.29 372.39 L219.48 372.55 L219.67 372.71 L219.86 372.87 L220.05 373.03 L220.24 373.19 L220.42 373.35 L220.61 373.51 L220.80 373.68 L220.99 373.84 L221.17 374.00 L221.36 374.17 L221.54 374.33 L221.73 374.50 L221.91 374.66 L222.10 374.83 L222.28 374.99 L222.46 375.16 L222.64 375.33 L222.83 375.50 L223.01 375.66 L223.19 375.83 L223.24 375.88 M225.40 377.96 L225.50 378.06 L225.67 378.24 L225.85 378.41 L226.02 378.59 L226.19 378.76 L226.36 378.94 L226.53 379.12 L226.71 379.29 L226.88 379.47 L227.04 379.65 L227.21 379.83 L227.38 380.01 L227.55 380.19 L227.72 380.37 L227.88 380.55 L228.05 380.73 L228.21 380.92 L228.38 381.10 L228.54 381.28 L228.71 381.47 L228.87 381.65 L229.03 381.83 L229.19 382.02 L229.35 382.21 L229.52 382.39 L229.67 382.58 L229.83 382.77 L229.99 382.95 L230.15 383.14 L230.31 383.33 L230.46 383.52 L230.62 383.71 L230.77 383.90 L230.93 384.09 L231.08 384.28 M232.90 386.67 L233.01 386.83 L233.15 387.03 L233.30 387.23 L233.44 387.43 L233.58 387.63 L233.72 387.83 L233.86 388.03 L234.00 388.24 L234.14 388.44 L234.27 388.64 L234.41 388.85 L234.54 389.05 L234.68 389.26 L234.81 389.47 L234.95 389.67 L235.08 389.88 L235.21 390.09 L235.34 390.30 L235.47 390.51 L235.60 390.72 L235.73 390.93 L235.85 391.14 L235.98 391.36 L236.10 391.57 L236.23 391.78 L236.35 392.00 L236.48 392.21 L236.60 392.43 L236.72 392.64 L236.84 392.86 L236.96 393.08 L237.08 393.29 L237.19 393.51 L237.31 393.73 L237.39 393.88 M238.70 396.57 L238.79 396.76 L238.89 396.99 L238.99 397.22 L239.09 397.45 L239.19 397.68 L239.29 397.91 L239.39 398.14 L239.49 398.38 L239.58 398.61 L239.68 398.85 L239.77 399.08 L239.86 399.32 L239.95 399.55 L240.04 399.79 L240.13 400.03 L240.22 400.27 L240.31 400.51 L240.40 400.75 L240.48 400.99 L240.56 401.23 L240.65 401.47 L240.73 401.72 L240.81 401.96 L240.89 402.21 L240.97 402.45 L241.05 402.70 L241.12 402.95 L241.20 403.19 L241.27 403.44 L241.35 403.69 L241.42 403.94 L241.49 404.19 L241.56 404.44 L241.59 404.56" fill="none" stroke="#3a3a3a" stroke-width="1.25"/>
<path d="M205.39 251.82 L206.12 252.49 L206.86 253.15 L207.59 253.82 L208.32 254.48 L209.05 255.15 L209.78 255.83 L210.51 256.50 L211.24 257.18 L211.97 257.86 L212.70 258.54 L213.43 259.22 L214.15 259.91 L214.88 260.60 L215.61 261.29 L216.33 261.98 L217.05 262.67 L217.78 263.37 L218.50 264.07 L219.22 264.77 L219.94 265.47 L220.66 266.18 L221.37 266.89 L222.09 267.60 L222.81 268.31 L223.52 269.02 L224.23 269.74 L224.94 270.46 L225.65 271.18 L226.36 271.90 L227.07 272.62 L227.77 273.35 L228.48 274.08 L229.18 274.81 L229.88 275.54 L230.58 276.28 L231.28 277.02 L231.97 277.76 L232.67 278.50 L233.36 279.24 L234.05 279.99 L234.74 280.74 L235.42 281.49 L236.11 282.24 L236.79 282.99 L237.47 283.75 L238.15 284.51 L238.83 285.27 L239.50 286.03 L240.17 286.80 L240.84 287.57 L241.51 288.34 L242.17 289.11 L242.84 289.88 L243.50 290.66 L244.15 291.44 L244.81 292.22 L245.46 293.00 L246.11 293.78 L246.76 294.57 L247.40 295.36 L248.05 296.15 L248.69 296.94 L249.32 297.74 L249.96 298.53 L250.59 299.33 L251.22 300.13 L251.84 300.94 L252.46 301.74 L253.08 302.55 L253.70 303.36 L254.31 304.17 L254.92 304.99 L255.53 305.80 L256.13 306.62 L256.73 307.44 L257.33 308.26 L257.92 309.09 L258.51 309.91 L259.10 310.74 L259.68 311.57 L260.26 312.40 L260.84 313.24 L261.41 314.08 L261.98 314.91 L262.55 315.76 L263.11 316.60 L263.67 317.44 L264.22 318.29 L264.77 319.14 L265.32 319.99 L265.86 320.84 L266.40 321.70 L266.94 322.56 L267.47 323.42 L267.99 324.28 L268.52 325.14 L269.04 326.01 L269.55 326.88 L270.06 327.74 L270.57 328.62 L271.07 329.49 L271.57 330.37 L272.06 331.24 L272.55 332.12 L273.03 333.01 L273.51 333.89 L273.99 334.78 L274.46 335.66 L274.92 336.56 L275.38 337.45 L275.84 338.34 L276.29 339.24 L276.74 340.14 L277.18 341.04 L277.62 341.94 L278.05 342.84 L278.48 343.75 L278.90 344.66 L279.32 345.57 L279.73 346.48 L280.14 347.40 L280.54 348.31 L280.94 349.23 L281.33 350.15 L281.72 351.07 L282.10 352.00 L282.48 352.93 L282.85 353.85 L283.21 354.78 L283.57 355.72 L283.93 356.65 L284.28 357.59 L284.62 358.53 L284.96 359.47 L285.29 360.41 L285.61 361.36 L285.94 362.30 L286.25 363.25 L286.56 364.20 L286.86 365.15 L287.16 366.11 L287.45 367.07 L287.74 368.02 L288.02 368.98 L288.29 369.95 L288.56 370.91 L288.82 371.88 L289.07 372.85 L289.32 373.82 L289.56 374.79 L289.80 375.76 L290.03 376.74 L290.25 377.72 L290.47 378.70 L290.68 379.68 L290.88 380.67 L291.08 381.65 L291.27 382.64 L291.46 383.63 L291.64 384.62 L291.81 385.62 L291.97 386.61 L292.13 387.61 L292.28 388.61 L292.42 389.61 L292.56 390.62 L292.69 391.62 L292.81 392.63 L292.93 393.64 L293.04 394.65 L293.14 395.67 L293.23 396.68 L293.32 397.70 L293.40 398.72 L293.48 399.74 L293.54 400.76 L293.60 401.79 L293.65 402.82 L293.69 403.85 L293.73 404.88 L293.76 405.91 L293.78 406.94 L293.79 407.98 L293.80 409.02" fill="none" stroke="#333" stroke-width="1.1" stroke-dasharray="1.1 2.2"/>
<path d="M338.99 284.50 L339.97 284.77 L340.94 285.04 L341.92 285.31 L342.89 285.59 L343.87 285.86 L344.84 286.13 L345.81 286.40 L346.79 286.68 L347.76 286.95 L348.73 287.22 L349.70 287.50 L350.68 287.77 L351.65 288.05 L352.62 288.32 L353.59 288.60 L354.56 288.87 L355.53 289.15 L356.50 289.42 L357.47 289.70 L358.44 289.98 L359.41 290.25 L360.38 290.53 L361.35 290.81 L362.32 291.08 L363.29 291.36 L364.26 291.64 L365.23 291.92 L366.19 292.20 L367.16 292.48 L368.13 292.76 L369.09 293.04 L370.06 293.33 L371.03 293.61 L371.99 293.89 L372.96 294.18 L373.92 294.46 L374.89 294.75 L375.85 295.03 L376.82 295.32 L377.78 295.61 L378.74 295.89 L379.71 296.18 L380.67 296.47 L381.63 296.76 L382.60 297.05 L383.56 297.34 L384.52 297.63 L385.48 297.93 L386.44 298.22 L387.40 298.52 L388.36 298.81 L389.32 299.11 L390.28 299.40 L391.24 299.70 L392.20 300.00 L393.16 300.30 L394.11 300.60 L395.07 300.90 L396.03 301.21 L396.98 301.51 L397.94 301.82 L398.90 302.12 L399.85 302.43 L400.81 302.74 L401.76 303.05 L402.72 303.36 L403.67 303.67 L404.62 303.98 L405.58 304.29 L406.53 304.61 L407.48 304.92 L408.43 305.24 L409.38 305.56 L410.33 305.88 L411.28 306.20 L412.23 306.52 L413.18 306.84 L414.13 307.17 L415.08 307.49 L416.03 307.82 L416.98 308.15 L417.92 308.48 L418.87 308.81 L419.82 309.14 L420.76 309.47 L421.71 309.81 L422.65 310.14 L423.60 310.48 L424.54 310.82 L425.49 311.16 L426.43 311.50 L427.37 311.85 L428.31 312.19 L429.26 312.54 L430.20 312.89 L431.14 313.24 L432.08 313.59 L433.02 313.94 L433.96 314.29 L434.89 314.65 L435.83 315.01 L436.77 315.37 L437.71 315.73 L438.64 316.09 L439.58 316.45 L440.52 316.82 L441.45 317.19 L442.38 317.56 L443.32 317.93 L444.25 318.30 L445.18 318.67 L446.12 319.05 L447.05 319.43 L447.98 319.81 L448.91 320.19 L449.84 320.58 L450.77 320.96 L451.70 321.35 L452.63 321.74 L453.56 322.13 L454.48 322.52 L455.41 322.92 L456.34 323.31 L457.26 323.71 L458.19 324.11 L459.11 324.52 L460.03 324.92 L460.96 325.33 L461.88 325.74 L462.80 326.15 L463.72 326.56 L464.64 326.98 L465.56 327.40 L466.48 327.82 L467.40 328.24 L468.32 328.66 L469.24 329.09 L470.16 329.52 L471.07 329.95 L471.99 330.38 L472.90 330.82 L473.82 331.25 L474.73 331.69 L475.64 332.14 L476.56 332.58 L477.47 333.03 L478.37 333.48 L479.28 333.93 L480.19 334.39 L481.09 334.85 L482.00 335.31 L482.90 335.77 L483.80 336.24 L484.70 336.71 L485.60 337.18 L486.49 337.66 L487.39 338.14 L488.28 338.62 L489.17 339.10 L490.06 339.59 L490.94 340.08 L491.83 340.58 L492.71 341.08 L493.59 341.58 L494.46 342.08 L495.34 342.59 L496.21 343.10 L497.08 343.62 L497.95 344.14 L498.81 344.66 L499.67 345.19 L500.53 345.72 L501.39 346.26 L502.24 346.79 L503.09 347.34 L503.94 347.88 L504.78 348.43 L505.62 348.99 L506.46 349.55 L507.29 350.11 L508.12 350.68 L508.95 351.25 L509.78 351.83 L510.60 352.41 L511.41 352.99 L512.23 353.58 L513.03 354.17 L513.84 354.77 L514.64 355.37 L515.44 355.98 L516.23 356.59 L517.02 357.21 L517.81 357.83 L518.59 358.46 L519.36 359.09 L520.14 359.73 L520.90 360.37 L521.67 361.02 L522.43 361.67 L523.18 362.32 L523.93 362.99 L524.68 363.65 L525.42 364.33 L526.15 365.00 L526.88 365.69 L527.61 366.37 L528.33 367.07 L529.04 367.77 L529.75 368.47 L530.45 369.19 L531.15 369.90 L531.83 370.63 L532.52 371.36 L533.19 372.09 L533.86 372.83 L534.51 373.58 L535.16 374.34 L535.80 375.10 L536.44 375.87 L537.06 376.64 L537.67 377.42 L538.28 378.21 L538.87 379.01 L539.45 379.81 L540.02 380.62 L540.59 381.44 L541.14 382.26 L541.67 383.10 L542.20 383.94 L542.71 384.79 L543.22 385.64 L543.70 386.51 L544.18 387.38 L544.64 388.26 L545.09 389.15 L545.53 390.04 L545.95 390.95 L546.35 391.86 L546.75 392.79 L547.12 393.72 L547.48 394.66 L547.83 395.61 L548.16 396.56 L548.47 397.53 L548.76 398.51 L549.04 399.49 L549.31 400.49 L549.55 401.49" fill="none" stroke="#2e2e2e" stroke-width="1.0"/>
<path d="M459.80 250.60 L460.45 251.36 L461.10 252.12 L461.74 252.88 L462.39 253.64 L463.03 254.41 L463.67 255.18 L464.31 255.95 L464.94 256.72 L465.58 257.49 L466.21 258.27 L466.84 259.05 L467.47 259.83 L468.10 260.61 L468.72 261.40 L469.35 262.19 L469.97 262.98 L470.59 263.77 L471.20 264.56 L471.82 265.36 L472.43 266.16 L473.04 266.96 L473.65 267.76 L474.26 268.56 L474.86 269.37 L475.46 270.18 L476.06 270.99 L476.66 271.80 L477.26 272.62 L477.85 273.44 L478.44 274.26 L479.03 275.08 L479.61 275.90 L480.20 276.73 L480.78 277.55 L481.36 278.38 L481.93 279.21 L482.51 280.05 L483.08 280.88 L483.65 281.72 L484.21 282.56 L484.77 283.40 L485.33 284.24 L485.89 285.09 L486.45 285.94 L487.00 286.78 L487.55 287.64 L488.10 288.49 L488.64 289.34 L489.18 290.20 L489.72 291.06 L490.25 291.92 L490.79 292.78 L491.32 293.64 L491.84 294.51 L492.37 295.38 L492.89 296.25 L493.40 297.12 L493.92 297.99 L494.43 298.87 L494.94 299.74 L495.44 300.62 L495.94 301.50 L496.44 302.38 L496.94 303.27 L497.43 304.15 L497.92 305.04 L498.40 305.93 L498.89 306.82 L499.36 307.71 L499.84 308.60 L500.31 309.50 L500.78 310.40 L501.24 311.29 L501.71 312.20 L502.16 313.10 L502.62 314.00 L503.07 314.91 L503.52 315.81 L503.96 316.72 L504.40 317.63 L504.84 318.54 L505.27 319.46 L505.70 320.37 L506.12 321.29 L506.55 322.21 L506.96 323.13 L507.38 324.05 L507.79 324.97 L508.19 325.90 L508.59 326.82 L508.99 327.75 L509.39 328.68 L509.78 329.61 L510.16 330.54 L510.55 331.47 L510.92 332.41 L511.30 333.34 L511.67 334.28 L512.03 335.22 L512.39 336.16 L512.75 337.10 L513.11 338.05 L513.45 338.99 L513.80 339.94 L514.14 340.88 L514.48 341.83 L514.81 342.78 L515.13 343.73 L515.46 344.69 L515.78 345.64 L516.09 346.60 L516.40 347.55 L516.70 348.51 L517.01 349.47 L517.30 350.43 L517.59 351.39 L517.88 352.36 L518.16 353.32 L518.44 354.29 L518.71 355.25 L518.98 356.22 L519.24 357.19 L519.50 358.16 L519.76 359.13 L520.00 360.11 L520.25 361.08 L520.49 362.06 L520.72 363.03 L520.95 364.01 L521.18 364.99 L521.40 365.97 L521.61 366.95 L521.82 367.93 L522.02 368.92 L522.22 369.90 L522.42 370.89 L522.61 371.87 L522.79 372.86 L522.97 373.85 L523.14 374.84 L523.31 375.83 L523.48 376.82 L523.63 377.82 L523.79 378.81 L523.93 379.80 L524.07 380.80 L524.21 381.80 L524.34 382.80 L524.47 383.79 L524.59 384.79 L524.70 385.80 L524.81 386.80 L524.92 387.80 L525.01 388.80 L525.11 389.81 L525.19 390.82 L525.27 391.82 L525.35 392.83 L525.42 393.84 L525.48 394.85 L525.54 395.86 L525.59 396.87 L525.64 397.88 L525.68 398.89 L525.72 399.91 L525.75 400.92 L525.77 401.94 L525.79 402.95 L525.80 403.97 L525.80 404.99 L525.80 406.01" fill="none" stroke="#333" stroke-width="1.1" stroke-dasharray="1.1 2.2"/>
<path d="M70.70 481.19 L71.68 481.44 L72.66 481.68 L73.63 481.93 L74.61 482.17 L75.59 482.42 L76.56 482.66 L77.54 482.91 L78.52 483.16 L79.49 483.40 L80.47 483.65 L81.45 483.90 L82.42 484.14 L83.40 484.39 L84.38 484.64 L85.35 484.89 L86.33 485.14 L87.30 485.39 L88.28 485.63 L89.25 485.88 L90.23 486.13 L91.20 486.38 L92.18 486.64 L93.15 486.89 L94.13 487.14 L95.10 487.39 L96.08 487.64 L97.05 487.90 L98.02 488.15 L99.00 488.41 L99.97 488.66 L100.94 488.91 L101.92 489.17 L102.89 489.43 L103.86 489.68 L104.83 489.94 L105.81 490.20 L106.78 490.46 L107.75 490.72 L108.72 490.98 L109.69 491.24 L110.66 491.50 L111.63 491.76 L112.61 492.02 L113.58 492.29 L114.55 492.55 L115.52 492.81 L116.48 493.08 L117.45 493.34 L118.42 493.61 L119.39 493.88 L120.36 494.15 L121.33 494.42 L122.30 494.69 L123.26 494.96 L124.23 495.23 L125.20 495.50 L126.17 495.77 L127.13 496.05 L128.10 496.32 L129.07 496.60 L130.03 496.87 L131.00 497.15 L131.96 497.43 L132.93 497.71 L133.89 497.99 L134.86 498.27 L135.82 498.55 L136.78 498.83 L137.75 499.12 L138.71 499.40 L139.67 499.69 L140.63 499.98 L141.60 500.26 L142.56 500.55 L143.52 500.84 L144.48 501.14 L145.44 501.43 L146.40 501.72 L147.36 502.02 L148.32 502.31 L149.28 502.61 L150.24 502.91 L151.20 503.21 L152.15 503.51 L153.11 503.81 L154.07 504.11 L155.03 504.41 L155.98 504.72 L156.94 505.02 L157.90 505.33 L158.85 505.64 L159.81 505.95 L160.76 506.26 L161.71 506.57 L162.67 506.89 L163.62 507.20 L164.57 507.52 L165.53 507.84 L166.48 508.16 L167.43 508.48 L168.38 508.80 L169.33 509.12 L170.28 509.45 L171.23 509.77 L172.18 510.10 L173.13 510.43 L174.08 510.76 L175.03 511.09 L175.98 511.43 L176.92 511.76 L177.87 512.10 L178.82 512.43 L179.76 512.77 L180.71 513.11 L181.65 513.46 L182.60 513.80 L183.54 514.15 L184.49 514.49 L185.43 514.84 L186.37 515.19 L187.31 515.54 L188.26 515.90 L189.20 516.25 L190.14 516.61 L191.08 516.97 L192.02 517.33 L192.96 517.69 L193.89 518.05 L194.83 518.42 L195.77 518.79 L196.71 519.15 L197.64 519.52 L198.58 519.90 L199.51 520.27 L200.45 520.65 L201.38 521.02 L202.32 521.40 L203.25 521.79 L204.18 522.17 L205.12 522.55 L206.05 522.94 L206.98 523.33 L207.91 523.72 L208.84 524.11 L209.77 524.51 L210.70 524.90 L211.62 525.30 L212.55 525.70 L213.48 526.10 L214.41 526.51 L215.33 526.91 L216.26 527.32 L217.18 527.73 L218.10 528.14 L219.03 528.56 L219.95 528.98 L220.87 529.40 L221.78 529.82 L222.70 530.25 L223.61 530.68 L224.52 531.12 L225.43 531.56 L226.34 532.01 L227.24 532.46 L228.14 532.91 L229.04 533.37 L229.93 533.84 L230.82 534.31 L231.71 534.79 L232.59 535.27 L233.47 535.76 L234.34 536.26 L235.21 536.76 L236.08 537.27 L236.94 537.79 L237.79 538.31 L238.64 538.85 L239.48 539.39 L240.32 539.94 L241.16 540.49 L241.98 541.06 L242.80 541.63 L243.62 542.22 L244.42 542.81 L245.23 543.41 L246.02 544.03 L246.81 544.65 L247.59 545.28 L248.36 545.92 L249.12 546.58 L249.88 547.24 L250.63 547.92 L251.37 548.60 L252.10 549.30 L252.82 550.01 L253.54 550.73 L254.24 551.47 L254.94 552.22 L255.63 552.97 L256.30 553.74 L256.96 554.52 L257.61 555.31 L258.25 556.12 L258.87 556.93 L259.47 557.75 L260.06 558.58 L260.64 559.42 L261.19 560.27 L261.73 561.12 L262.25 561.99 L262.74 562.86 L263.22 563.74 L263.68 564.63 L264.11 565.53 L264.52 566.43 L264.90 567.33 L265.27 568.25 L265.60 569.17 L265.91 570.09 L266.19 571.02 L266.44 571.96 L266.67 572.89 L266.86 573.84 L267.03 574.78 L267.16 575.73 L267.27 576.69 L267.33 577.64 L267.37 578.60 L267.37 579.56 L267.34 580.52 L267.28 581.49 L267.19 582.45 L267.07 583.42 L266.92 584.39 L266.74 585.36 L266.54 586.33 L266.31 587.30 L266.06 588.27 L265.79 589.24 L265.50 590.21 L265.19 591.18 L264.86 592.15 L264.51 593.11 L264.15 594.08 L263.77 595.05 L263.38 596.01 L262.98 596.97 L262.56 597.93 L262.13 598.89 L261.70 599.85 L261.26 600.80 L260.81 601.75 L260.35 602.70 L259.89 603.64 L259.43 604.58 L258.97 605.52 L258.50 606.45 L258.04 607.38 L257.57 608.30 L257.11 609.22 L256.66 610.14 L256.20 611.05 L255.76 611.96 L255.32 612.87 L254.88 613.77 L254.45 614.68 L254.03 615.58 L253.61 616.48 L253.21 617.39 L252.82 618.29 L252.43 619.20 L252.06 620.11 L251.69 621.03 L251.34 621.94 L251.01 622.87 L250.68 623.79 L250.37 624.73 L250.08 625.67 L249.80 626.61 L249.54 627.57 L249.29 628.53 L249.06 629.50 L248.85 630.48 L248.66 631.47 L248.49 632.47 L248.34 633.48 L248.21 634.50" fill="none" stroke="#2e2e2e" stroke-width="1.0"/>
<path d="M338.98 634.99 L339.99 634.84 L340.99 634.70 L342.00 634.55 L343.00 634.41 L344.00 634.27 L345.00 634.12 L346.00 633.98 L347.01 633.83 L348.01 633.69 L349.01 633.55 L350.01 633.40 L351.01 633.26 L352.01 633.11 L353.01 632.97 L354.01 632.82 L355.01 632.68 L356.00 632.53 L357.00 632.39 L358.00 632.24 L359.00 632.10 L359.99 631.95 L360.99 631.81 L361.99 631.66 L362.98 631.52 L363.98 631.37 L364.98 631.22 L365.97 631.08 L366.97 630.93 L367.96 630.79 L368.96 630.64 L369.95 630.49 L370.94 630.35 L371.94 630.20 L372.93 630.05 L373.93 629.90 L374.92 629.76 L375.91 629.61 L376.90 629.46 L377.90 629.31 L378.89 629.16 L379.88 629.02 L380.87 628.87 L381.86 628.72 L382.85 628.57 L383.84 628.42 L384.84 628.27 L385.83 628.12 L386.82 627.97 L387.81 627.82 L388.80 627.67 L389.79 627.52 L390.78 627.37 L391.77 627.21 L392.75 627.06 L393.74 626.91 L394.73 626.76 L395.72 626.61 L396.71 626.45 L397.70 626.30 L398.69 626.15 L399.67 625.99 L400.66 625.84 L401.65 625.68 L402.64 625.53 L403.62 625.38 L404.61 625.22 L405.60 625.06 L406.59 624.91 L407.57 624.75 L408.56 624.60 L409.55 624.44 L410.53 624.28 L411.52 624.12 L412.51 623.97 L413.49 623.81 L414.48 623.65 L415.46 623.49 L416.45 623.33 L417.44 623.17 L418.42 623.01 L419.41 622.85 L420.39 622.69 L421.38 622.53 L422.36 622.36 L423.35 622.20 L424.34 622.04 L425.32 621.88 L426.31 621.71 L427.29 621.55 L428.28 621.38 L429.26 621.22 L430.25 621.05 L431.23 620.89 L432.22 620.72 L433.20 620.55 L434.19 620.39 L435.17 620.22 L436.16 620.05 L437.14 619.88 L438.13 619.71 L439.11 619.55 L440.10 619.38 L441.08 619.20 L442.07 619.03 L443.05 618.86 L444.04 618.69 L445.02 618.52 L446.01 618.34 L446.99 618.17 L447.98 618.00 L448.96 617.82 L449.95 617.65 L450.93 617.47 L451.92 617.30 L452.91 617.12 L453.89 616.94 L454.88 616.76 L455.86 616.58 L456.85 616.41 L457.83 616.23 L458.82 616.05 L459.80 615.87 L460.79 615.68 L461.78 615.50 L462.76 615.32 L463.75 615.14 L464.74 614.95 L465.72 614.77 L466.71 614.58 L467.70 614.40 L468.68 614.21 L469.67 614.02 L470.66 613.84 L471.64 613.65 L472.63 613.46 L473.62 613.27 L474.61 613.08 L475.59 612.89 L476.58 612.70 L477.57 612.51 L478.56 612.31 L479.55 612.12 L480.53 611.93 L481.52 611.73 L482.51 611.54 L483.50 611.34 L484.49 611.14 L485.48 610.95 L486.47 610.75 L487.46 610.55 L488.45 610.35 L489.44 610.15 L490.43 609.95 L491.42 609.75 L492.41 609.54 L493.40 609.34 L494.39 609.14 L495.38 608.93 L496.38 608.73 L497.37 608.52 L498.36 608.31 L499.35 608.10 L500.34 607.90 L501.34 607.69 L502.33 607.48 L503.32 607.27 L504.32 607.05 L505.31 606.84 L506.31 606.63 L507.30 606.41 L508.29 606.20 L509.29 605.98 L510.28 605.76 L511.28 605.54 L512.27 605.32 L513.26 605.10 L514.26 604.88 L515.25 604.65 L516.24 604.42 L517.23 604.19 L518.22 603.96 L519.21 603.72 L520.20 603.49 L521.19 603.25 L522.18 603.00 L523.16 602.76 L524.15 602.51 L525.13 602.26 L526.11 602.00 L527.09 601.74 L528.07 601.48 L529.05 601.21 L530.02 600.95 L531.00 600.67 L531.97 600.39 L532.94 600.11 L533.91 599.83 L534.87 599.54 L535.84 599.24 L536.80 598.95 L537.76 598.64 L538.71 598.33 L539.67 598.02 L540.62 597.70 L541.57 597.38 L542.51 597.05 L543.45 596.71 L544.39 596.38 L545.33 596.03 L546.27 595.68 L547.20 595.32 L548.12 594.96 L549.05 594.59 L549.97 594.21 L550.89 593.83 L551.80 593.44 L552.71 593.05 L553.62 592.65 L554.52 592.24 L555.42 591.82 L556.31 591.40 L557.20 590.97 L558.09 590.53 L558.97 590.09 L559.85 589.64 L560.73 589.18 L561.59 588.71 L562.46 588.23 L563.32 587.75 L564.17 587.26 L565.03 586.76 L565.87 586.25 L566.71 585.73 L567.55 585.20 L568.38 584.67 L569.20 584.13 L570.02 583.57 L570.84 583.01 L571.65 582.44 L572.45 581.86 L573.25 581.27 L574.04 580.67 L574.83 580.06 L575.61 579.44 L576.39 578.81 L577.15 578.17 L577.92 577.52 L578.67 576.86 L579.42 576.19 L580.17 575.51 L580.90 574.82 L581.62 574.12 L582.34 573.41 L583.04 572.68 L583.73 571.95 L584.41 571.20 L585.07 570.45 L585.72 569.68 L586.35 568.91 L586.97 568.12 L587.57 567.32 L588.15 566.51 L588.72 565.68 L589.26 564.85 L589.78 564.01 L590.28 563.15 L590.76 562.28 L591.21 561.41 L591.65 560.51 L592.05 559.61 L592.43 558.70 L592.79 557.77 L593.11 556.84 L593.41 555.89 L593.68 554.93 L593.93 553.96 L594.16 552.99 L594.36 552.00 L594.54 551.01 L594.70 550.01 L594.84 549.00 L594.97 547.99 L595.08 546.97 L595.18 545.95 L595.26 544.93 L595.33 543.91 L595.39 542.88 L595.43 541.85 L595.47 540.82 L595.51 539.80 L595.53 538.77 L595.56 537.75 L595.58 536.73 L595.59 535.71 L595.61 534.70 L595.62 533.69 L595.64 532.69 L595.66 531.70 L595.69 530.71 L595.71 529.73 L595.75 528.76 L595.79 527.80" fill="none" stroke="#2e2e2e" stroke-width="1.0"/>
<text class="sr" x="45.00" y="18.75" font-size="10.0">(a)</text>
<text class="sr" x="350.80" y="21.70" font-size="10.0">(b)</text>
<text class="sr" x="52.20" y="245.00" font-size="10.0">(c)</text>
<text class="sr" x="350.60" y="244.80" font-size="10.0">(d)</text>
<text class="sr" x="52.20" y="478.50" font-size="10.0">(e)</text>
<text class="sr" x="350.80" y="478.00" font-size="9.6">(f)</text>
<text class="sr bi" font-size="10" style="stroke-width:0.2px" transform="translate(6.30 97.80) rotate(-90)">z/H</text>
<circle cx="6.90" cy="82.40" r="1.05" fill="#3a3a3a"/>
<text class="sr bi" font-size="10" style="stroke-width:0.2px" transform="translate(308.70 102.00) rotate(-90)">z/H</text>
<circle cx="309.30" cy="86.60" r="1.05" fill="#3a3a3a"/>
<text class="sr bi" font-size="10" style="stroke-width:0.2px" transform="translate(8.60 329.00) rotate(-90)">z/H</text>
<circle cx="9.20" cy="313.60" r="1.05" fill="#3a3a3a"/>
<text class="sr bi" font-size="10" style="stroke-width:0.2px" transform="translate(309.30 328.10) rotate(-90)">z/H</text>
<circle cx="309.90" cy="312.70" r="1.05" fill="#3a3a3a"/>
<text class="sr bi" font-size="10" style="stroke-width:0.2px" transform="translate(9.00 559.60) rotate(-90)">z/H</text>
<circle cx="9.60" cy="544.20" r="1.05" fill="#3a3a3a"/>
<text class="sr bi" font-size="10" style="stroke-width:0.2px" transform="translate(311.10 560.80) rotate(-90)">z/H</text>
<circle cx="311.70" cy="545.40" r="1.05" fill="#3a3a3a"/>
<text class="sr bi" font-size="9.7" x="155.6" y="212.7">T/T</text><circle cx="170.40" cy="212.90" r="1.05" fill="#3a3a3a"/>
<text class="sr bi" font-size="10.5" x="461.4" y="214.8">x</text>
<text class="sr bi" font-size="9.6" x="141.6" y="442.6" style="stroke-width:0.25px">P/P</text><circle cx="158.80" cy="443.00" r="1.05" fill="#3a3a3a"/><text class="sr" font-size="9.6" x="163.5" y="442.6">,</text><text class="sr" font-size="10.3" x="170.5" y="442.6" style="stroke-width:0.3px">ρ</text><text class="sr" font-size="7" x="175.3" y="446">g</text><text class="sr" font-size="9.6" x="178.9" y="442.6">/</text><text class="sr" font-size="10.3" x="182.9" y="442.6" style="stroke-width:0.3px">ρ</text><circle cx="190.80" cy="443.00" r="1.05" fill="#3a3a3a"/>
<text class="sr" font-size="10.2" x="454.6" y="439.6" style="stroke-width:0.3px">ρ/ρ</text><circle cx="470.30" cy="440.60" r="1.05" fill="#3a3a3a"/>
<text class="sr bi" font-size="10" x="158.6" y="670.8">c/c</text><circle cx="173.30" cy="670.80" r="1.05" fill="#3a3a3a"/>
<text class="ss" font-size="9.2" x="453.8" y="672.6">σ(<tspan font-style="italic">z</tspan>)/σ</text>
<text class="sr" font-style="italic" font-size="9.6" x="203.4" y="346.3">P</text>
<text class="sr" font-size="9.6" x="197.9" y="372.6">ρ</text><text class="sr" font-size="7" x="203.6" y="375.6">g</text>
</svg></body></html>
